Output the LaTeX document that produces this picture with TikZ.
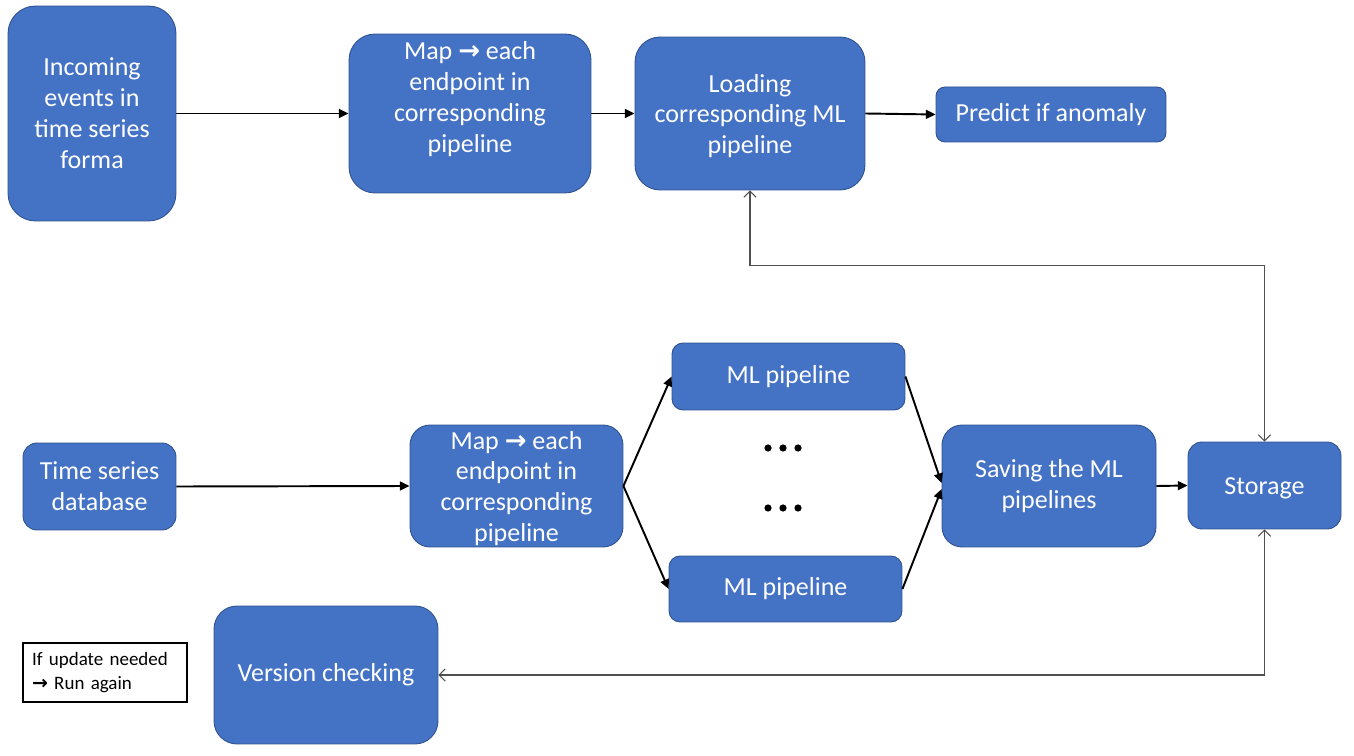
\documentclass[tikz,border=0pt]{standalone}
\usepackage{fontspec}
\setmainfont{Carlito}
\newfontfamily\arrowfont{DejaVu Sans}
\usetikzlibrary{arrows.meta,calc}
\definecolor{boxfill}{HTML}{4472C4}
\definecolor{boxline}{HTML}{2F528F}
\definecolor{thinline}{HTML}{505050}
\newcommand{\myarr}{{\arrowfont\bfseries →}}
\tikzset{
  bluebox/.style={draw=boxline, line width=0.5pt, fill=boxfill, text=white, align=center,
    font=\fontsize{14.8}{17.6}\selectfont, inner sep=0pt},
  bluetext/.style={text=white, align=center, font=\fontsize{14.8}{17.6}\selectfont, inner sep=0pt},
  notebox/.style={draw=black, line width=0.6pt, fill=white, align=left,
    font=\fontsize{10.8}{13.6}\selectfont, inner xsep=0.18cm, inner ysep=0pt, text width=2.92cm},
  thickarrow/.style={line width=1.1pt, -{Triangle[length=5.5pt,width=5pt]}},
  thinarrow/.style={line width=0.6pt, draw=thinline, {Straight Barb[length=3.5pt,width=7pt]}-{Straight Barb[length=3.5pt,width=7pt]}}
}
\begin{document}
\begin{tikzpicture}[x=0.02cm,y=-0.02cm]
\useasboundingbox (0,0) rectangle (1354,756);
\node[bluebox, minimum width=3.36cm, minimum height=4.30cm, rounded corners=0.55cm] (A) at (92,113.5) {Incoming\\events in\\time series\\forma};
\node[bluebox, minimum width=4.84cm, minimum height=3.18cm, rounded corners=0.52cm] (B) at (470,113.5) {};
\node[bluetext] (Btxt) at (470,99) {Map \myarr\ each\\endpoint in\\corresponding\\pipeline};
\node[bluebox, minimum width=4.60cm, minimum height=3.06cm, rounded corners=0.50cm] (C) at (750,113.5) {};
\node[bluetext] (Ctxt) at (750,116) {Loading\\corresponding ML\\pipeline};
\node[bluebox, minimum width=4.60cm, minimum height=1.10cm, rounded corners=0.18cm] (D) at (1051,114.5) {Predict if anomaly};
\node[bluebox, minimum width=3.06cm, minimum height=1.74cm, rounded corners=0.28cm] (E) at (99.5,486.5) {Time series\\database};
\node[bluebox, minimum width=4.26cm, minimum height=2.44cm, rounded corners=0.40cm] (F) at (516.5,486) {};
\node[bluetext] (Ftxt) at (516.5,488.5) {Map \myarr\ each\\endpoint in\\corresponding\\pipeline};
\node[bluebox, minimum width=4.66cm, minimum height=1.34cm, rounded corners=0.22cm] (G1) at (788.5,376.5) {ML pipeline};
\node[bluebox, minimum width=4.66cm, minimum height=1.32cm, rounded corners=0.22cm] (G2) at (785.5,589) {ML pipeline};
\foreach \dx in {-15,0,15} {
  \fill (783+\dx,448) circle (3.6);
  \fill (783+\dx,508) circle (3.6);
}
\node[bluebox, minimum width=4.28cm, minimum height=2.44cm, rounded corners=0.40cm] (H) at (1049,486) {Saving the ML\\pipelines};
\node[bluebox, minimum width=3.06cm, minimum height=1.74cm, rounded corners=0.28cm] (S) at (1264.5,485.5) {};
\node[bluetext] (Stxt) at (1264.5,488) {Storage};
\node[bluebox, minimum width=4.48cm, minimum height=2.76cm, rounded corners=0.46cm] (V) at (326,675) {Version checking};
\node[notebox, minimum height=1.18cm] (N) at (105,672.5) {If update needed\\\myarr\ Run again};

\draw[thickarrow] (A.east) -- (B.west);
\draw[thickarrow] (B.east) -- (C.west);
\draw[thickarrow] (C.east) -- (D.west);
\draw[thickarrow] (E.east) -- (F.west);
\draw[thickarrow] (F.east) -- (G1.west);
\draw[thickarrow] (F.east) -- (G2.west);
\draw[thickarrow] (G1.east) -- ($(H.west)+(0,-3)$);
\draw[thickarrow] (G2.east) -- ($(H.west)+(0,3)$);
\draw[thickarrow] (H.east) -- (S.west);
\draw[thinarrow] (C.south) -- ++(0,75) -| (S.north);
\draw[thinarrow] (S.south) |- (V.east);
\end{tikzpicture}
\end{document}
